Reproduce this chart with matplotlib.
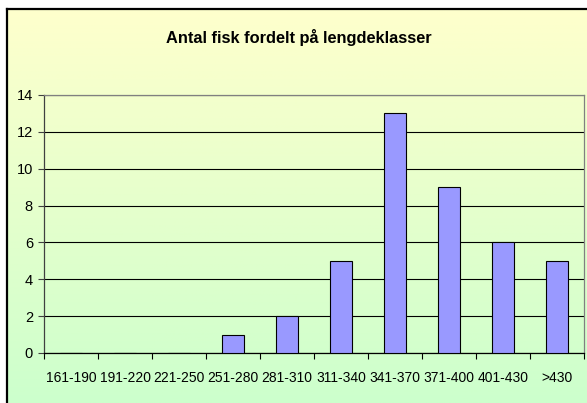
import numpy as np
import matplotlib
matplotlib.use("Agg")
import matplotlib.pyplot as plt

categories = ["161-190", "191-220", "221-250", "251-280", "281-310",
              "311-340", "341-370", "371-400", "401-430", ">430"]
counts = [0, 0, 0, 1, 2, 5, 13, 9, 6, 5]
yticks = [0, 2, 4, 6, 8, 10, 12, 14]
title = "Antal fisk fordelt på lengdeklasser"

plt.rcParams['font.family'] = ['Liberation Sans', 'DejaVu Sans']

W, H = 587, 403
fig = plt.figure(figsize=(W / 100, H / 100), dpi=100)
fig.patch.set_facecolor("white")

# chart area background with gradient
bx0, by_top = 7, 9
bg = fig.add_axes([bx0 / W, 0, 1 - bx0 / W, (H - by_top) / H])
top = np.array([255, 255, 204]) / 255
bot = np.array([204, 255, 204]) / 255
t = np.linspace(0, 1, 256)[:, None]
grad = (top[None, :] * (1 - t) + bot[None, :] * t)[:, None, :]
grad = np.repeat(grad, 2, axis=1)
bg.imshow(grad, aspect="auto", extent=[0, 1, 0, 1], origin="upper")
bg.set_xlim(0, 1)
bg.set_ylim(0, 1)
bg.set_xticks([])
bg.set_yticks([])
for s in ["right", "bottom"]:
    bg.spines[s].set_visible(False)
for s in ["left", "top"]:
    bg.spines[s].set_color("black")
    bg.spines[s].set_linewidth(1.6)
bg.set_zorder(0)

fig.text(299 / W, 1 - 38 / H, title, ha="center", va="center",
         fontsize=11.8, fontweight="bold", color="black")

# plot area
L, R, T, B = 44, 584, 95, 353
ax = fig.add_axes([L / W, (H - B) / H, (R - L) / W, (B - T) / H])
ax.patch.set_alpha(0)
ax.set_zorder(1)

x = np.arange(len(categories))
ax.bar(x, counts, width=0.42, color="#9999FF", edgecolor="black",
       linewidth=0.8, zorder=3)

ax.set_xlim(-0.5, len(categories) - 0.5)
ax.set_ylim(0, 14)
ax.set_yticks(yticks)
ax.set_yticklabels([str(v) for v in yticks], fontsize=10.5)
ax.yaxis.grid(True, color="black", linewidth=0.8, zorder=0)
ax.set_axisbelow(True)

ax.set_xticks(np.arange(-0.5, len(categories), 1.0))
ax.set_xticklabels([])
ax.set_xticks(x, minor=True)
ax.set_xticklabels(categories, minor=True, fontsize=10)
ax.tick_params(axis="x", which="major", direction="out", length=4, width=0.8, color="black")
ax.tick_params(axis="x", which="minor", length=0, pad=13)
ax.tick_params(axis="y", direction="out", length=4, width=0.8, color="#404040", pad=4)

ax.spines["top"].set_color("#808080")
ax.spines["right"].set_color("#808080")
ax.spines["left"].set_color("#404040")
ax.spines["bottom"].set_color("black")
for s in ax.spines.values():
    s.set_linewidth(0.9)

fig.savefig("out.png", dpi=100)
